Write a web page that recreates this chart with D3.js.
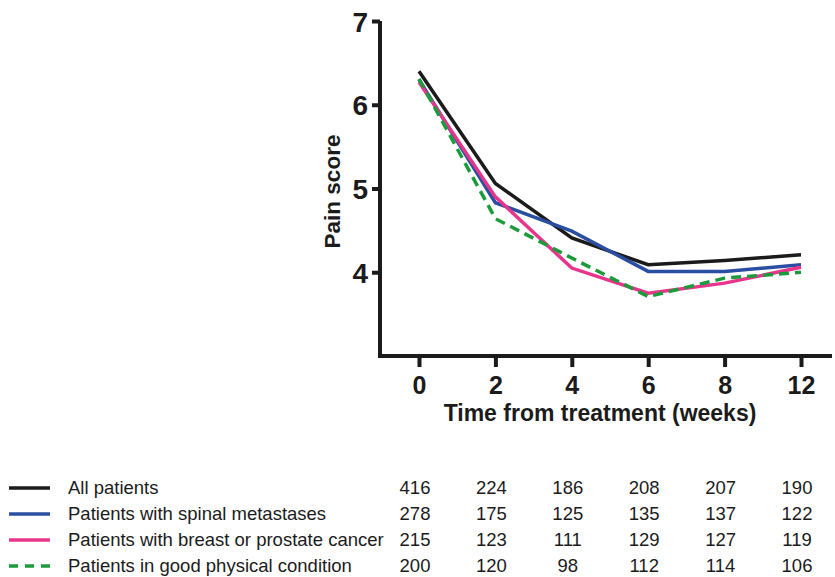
<!DOCTYPE html>
<html>
<head>
<meta charset="utf-8">
<script src="https://cdn.jsdelivr.net/npm/d3@7"></script>
<style>
  body { margin: 0; background: #fff; }
  svg { display: block; font-family: "Liberation Sans", Arial, sans-serif; }
</style>
</head>
<body>
<svg width="835" height="577"></svg>
<script>
// weeks after treatment (categorical axis, 10 is skipped)
let semanas = ["0", "2", "4", "6", "8", "12"];

let grupos = [
    "All patients",
    "Patients with spinal metastases",
    "Patients with breast or prostate cancer",
    "Patients in good physical condition"
];

// mean pain score per week
let dor_todos   = [6.40, 5.06, 4.41, 4.09, 4.14, 4.21];
let dor_coluna  = [6.30, 4.83, 4.49, 4.01, 4.01, 4.09];
let dor_mama    = [6.27, 4.90, 4.05, 3.75, 3.87, 4.06];
let dor_boa     = [6.31, 4.64, 4.17, 3.71, 3.93, 4.00];

// number of patients per week
let n_todos  = [416, 224, 186, 208, 207, 190];
let n_coluna = [278, 175, 125, 135, 137, 122];
let n_mama   = [215, 123, 111, 129, 127, 119];
let n_boa    = [200, 120, 98, 112, 114, 106];

let y_ticks = [4, 5, 6, 7];

let cores = ["#1b1b1b", "#2a4ea1", "#e8358c", "#1c9b3c"];
let tracos = [null, null, null, "10,6"];

let series = [
    { nome: grupos[0], valores: dor_todos,  n: n_todos },
    { nome: grupos[1], valores: dor_coluna, n: n_coluna },
    { nome: grupos[2], valores: dor_mama,   n: n_mama },
    { nome: grupos[3], valores: dor_boa,    n: n_boa }
];

let $svg = d3.select("svg");

let x = d3.scalePoint()
  .domain(semanas)
  .range([419, 801]);

let y = d3.scaleLinear()
  .domain([3, 7])
  .range([356, 21]);

let eixo_x0 = 380, eixo_x1 = 832;

// eixo y
let gy = $svg.append("g")
  .attr("transform", "translate(" + eixo_x0 + ",0)")
  .call(d3.axisLeft(y).tickValues(y_ticks).tickSize(8).tickSizeOuter(0).tickFormat(d3.format("d")));
gy.select(".domain").remove();
gy.selectAll(".tick line").attr("stroke", "#1b1b1b").attr("stroke-width", 4);
gy.selectAll(".tick text")
  .attr("x", -12)
  .attr("dy", "0.36em")
  .style("font-size", "28px")
  .style("font-weight", "bold")
  .attr("fill", "#1b1b1b");

// eixo x
let gx = $svg.append("g")
  .attr("transform", "translate(0," + y(3) + ")")
  .call(d3.axisBottom(x).tickSize(11).tickSizeOuter(0));
gx.select(".domain").remove();
gx.selectAll(".tick line").attr("stroke", "#1b1b1b").attr("stroke-width", 4);
gx.selectAll(".tick text")
  .attr("y", 20)
  .attr("dy", "0.71em")
  .style("font-size", "25px")
  .style("font-weight", "bold")
  .attr("fill", "#1b1b1b");

// axis lines drawn as one path so the corner joins
$svg.append("path")
  .attr("d", "M" + eixo_x0 + "," + y(7) + "V" + y(3) + "H" + eixo_x1)
  .attr("fill", "none")
  .attr("stroke", "#1b1b1b")
  .attr("stroke-width", 4)
  .attr("stroke-linejoin", "miter");

$svg.append("text")
  .attr("transform", "translate(340," + (y(5) + 3) + ") rotate(-90)")
  .attr("text-anchor", "middle")
  .style("font-size", "22.5px")
  .style("font-weight", "bold")
  .attr("fill", "#1b1b1b")
  .text("Pain score");

$svg.append("text")
  .attr("x", 600)
  .attr("y", 421)
  .attr("text-anchor", "middle")
  .style("font-size", "23px")
  .style("font-weight", "bold")
  .attr("fill", "#1b1b1b")
  .text("Time from treatment (weeks)");

// linhas
let linha = d3.line()
  .x((d, i) => x(semanas[i]))
  .y(d => y(d));

$svg.selectAll("path.serie")
  .data(series)
  .enter()
  .append("path")
  .classed("serie", true)
  .attr("d", d => linha(d.valores))
  .attr("fill", "none")
  .attr("stroke", (d, i) => cores[i])
  .attr("stroke-width", 3.5)
  .attr("stroke-dasharray", (d, i) => tracos[i]);

// legenda + tabela de n
let linha_y = d3.scalePoint()
  .domain(grupos)
  .range([488, 566]);

let legenda = $svg.selectAll("g.legenda")
  .data(series)
  .enter()
  .append("g")
  .classed("legenda", true)
  .attr("transform", d => "translate(0," + linha_y(d.nome) + ")");

legenda.append("line")
  .attr("x1", 9)
  .attr("x2", 50)
  .attr("y1", 0)
  .attr("y2", 0)
  .attr("stroke", (d, i) => cores[i])
  .attr("stroke-width", 3.5)
  .attr("stroke-dasharray", (d, i) => i == 3 ? "9,7" : null);

legenda.append("text")
  .attr("x", 68)
  .attr("dy", "0.35em")
  .style("font-size", "18.5px")
  .attr("fill", "#1b1b1b")
  .text(d => d.nome);

legenda.selectAll("text.n")
  .data(d => d.n)
  .enter()
  .append("text")
  .classed("n", true)
  .attr("x", (d, i) => x(semanas[i]) - 4)
  .attr("dy", "0.35em")
  .attr("text-anchor", "middle")
  .style("font-size", "18.5px")
  .attr("fill", "#1b1b1b")
  .text(d => d);
</script>
</body>
</html>
